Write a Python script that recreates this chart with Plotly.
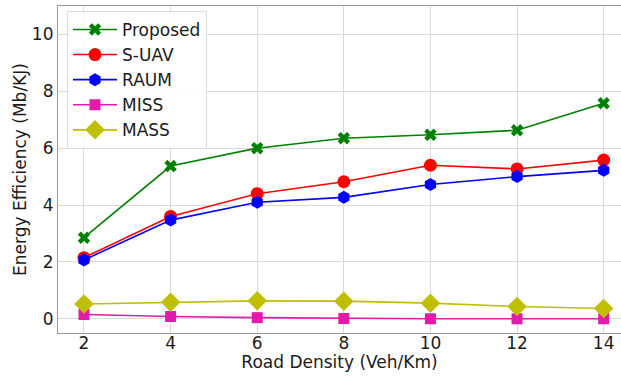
import plotly.graph_objects as go

road_density = [2, 4, 6, 8, 10, 12, 14]
proposed = [2.85, 5.37, 6.00, 6.35, 6.47, 6.63, 7.58]
s_uav = [2.15, 3.60, 4.40, 4.82, 5.40, 5.27, 5.58]
raum = [2.07, 3.47, 4.10, 4.27, 4.72, 5.00, 5.22]
miss = [0.15, 0.08, 0.04, 0.01, 0.00, 0.00, 0.00]
mass = [0.52, 0.58, 0.63, 0.62, 0.55, 0.43, 0.36]
x_ticks = [2, 4, 6, 8, 10, 12, 14]
y_ticks = [0, 2, 4, 6, 8, 10]

series = [
    ("Proposed", proposed, "#008000", "x", 11),
    ("S-UAV", s_uav, "#ff0000", "circle", 13),
    ("RAUM", raum, "#0000ff", "hexagon", 13),
    ("MISS", miss, "#e31aab", "square", 11),
    ("MASS", mass, "#bfbf00", "diamond", 15),
]

fig = go.Figure()
for name, vals, color, sym, size in series:
    fig.add_trace(go.Scatter(
        x=road_density, y=vals, name=name, mode="lines+markers",
        line=dict(color=color, width=1.6),
        marker=dict(symbol=sym, size=size, color=color, line=dict(width=0)),
    ))

font = "DejaVu Sans"
fig.update_layout(
    width=621, height=378,
    margin=dict(l=58, r=0, t=6, b=45),
    paper_bgcolor="white", plot_bgcolor="white",
    font=dict(family=font, size=17, color="#1a1a1a"),
    showlegend=True,
    legend=dict(
        x=0.016, y=0.985, xanchor="left", yanchor="top",
        bgcolor="rgba(255,255,255,0.85)", bordercolor="#dddddd", borderwidth=1,
        font=dict(family=font, size=17, color="#1a1a1a"),
        itemsizing="trace", tracegroupgap=0, itemwidth=44,
    ),
    xaxis=dict(
        range=[1.4, 14.4], tickvals=x_ticks, ticktext=[str(v) for v in x_ticks],
        showgrid=True, gridcolor="#d9d9d9", gridwidth=1,
        showline=True, linecolor="#999999", linewidth=1.2, mirror=True,
        zeroline=False, ticks="", ticklabelstandoff=-6,
        title=dict(text="Road Density (Veh/Km)", font=dict(size=17), standoff=0),
        tickfont=dict(size=17),
    ),
    yaxis=dict(
        range=[-0.5, 11], tickvals=y_ticks, ticktext=[str(v) for v in y_ticks],
        showgrid=True, gridcolor="#d9d9d9", gridwidth=1,
        showline=True, linecolor="#999999", linewidth=1.2, mirror=True,
        zeroline=False, ticks="",
        title=dict(text="Energy Efficiency (Mb/KJ)", font=dict(size=17), standoff=0),
        tickfont=dict(size=17),
    ),
)

fig.write_html("out.html")
